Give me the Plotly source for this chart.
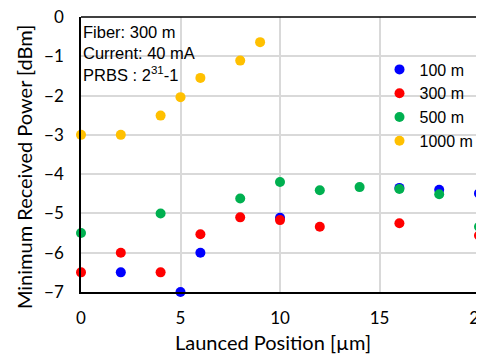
import plotly.graph_objects as go

x100 = [2, 5, 6, 10, 16, 18, 20]
y100 = [-6.5, -7.0, -6.0, -5.11, -4.35, -4.40, -4.49]
x300 = [0, 2, 4, 6, 8, 10, 12, 16, 20]
y300 = [-6.5, -6.0, -6.5, -5.53, -5.1, -5.17, -5.34, -5.25, -5.56]
x500 = [0, 4, 8, 10, 12, 14, 16, 18, 20]
y500 = [-5.5, -5.0, -4.62, -4.2, -4.41, -4.33, -4.38, -4.51, -5.34]
x1000 = [0, 2, 4, 5, 6, 8, 9]
y1000 = [-3.0, -3.0, -2.51, -2.04, -1.55, -1.11, -0.64]

series = [
    ("100 m", x100, y100, "#0000FF"),
    ("300 m", x300, y300, "#FF0000"),
    ("500 m", x500, y500, "#00B050"),
    ("1000 m", x1000, y1000, "#FFC000"),
]

fig = go.Figure()
for name, xs, ys, c in series:
    fig.add_trace(go.Scatter(x=xs, y=ys, name=name, mode="markers",
                             marker=dict(color=c, size=10, line=dict(width=0)),
                             cliponaxis=False))

fig.update_layout(
    width=484, height=354,
    margin=dict(l=73, r=13, t=9, b=70, autoexpand=False),
    plot_bgcolor="white", paper_bgcolor="white",
    showlegend=True,
    legend=dict(x=0.75, y=0.871, xanchor="left", yanchor="top",
                bgcolor="rgba(0,0,0,0)", font=dict(family="Liberation Sans", size=16, color="black"),
                itemwidth=30, tracegroupgap=0),
    annotations=[
        dict(x=0.0, y=0.985, xref="paper", yref="paper", xanchor="left", yanchor="top",
             align="left", showarrow=False,
             text="Fiber: 300 m<br>Current: 40 mA<br>PRBS : 2<sup>31</sup>-1",
             font=dict(family="Liberation Sans", size=16.5, color="black")),
        dict(x=-0.143, y=0.4545, xref="paper", yref="paper", xanchor="center", yanchor="middle",
             textangle=-90, showarrow=False, text="Minimum Received Power [dBm]",
             font=dict(family="Lato", size=20, color="black")),
        dict(x=0.482, y=-0.182, xref="paper", yref="paper", xanchor="center", yanchor="middle",
             showarrow=False, text="Launced Position [µm]",
             font=dict(family="Lato", size=20, color="black")),
    ],
)
fig.update_xaxes(range=[0, 20], dtick=5, showgrid=True, gridcolor="#D9D9D9", gridwidth=1.5,
                 showline=True, linecolor="black", linewidth=1.5, mirror=False, automargin=False,
                 zeroline=False, ticks="", ticklabelstandoff=10, ticklabeloverflow="allow",
                 tickfont=dict(family="Lato", size=17, color="black"))
fig.update_yaxes(range=[-7, 0], dtick=1, showgrid=True, gridcolor="#D9D9D9", gridwidth=1.5,
                 showline=True, linecolor="black", linewidth=1.5, mirror=False, automargin=False,
                 zeroline=False, ticks="", ticklabelstandoff=12, ticklabeloverflow="allow",
                 tickfont=dict(family="Lato", size=17, color="black"))
fig.add_shape(type="line", xref="paper", yref="paper", x0=0, x1=1, y0=1, y1=1, line=dict(color="black", width=1.5))
fig.add_shape(type="line", xref="paper", yref="paper", x0=1, x1=1, y0=0, y1=1, line=dict(color="#7F7F7F", width=2))
fig.write_html("out.html")
